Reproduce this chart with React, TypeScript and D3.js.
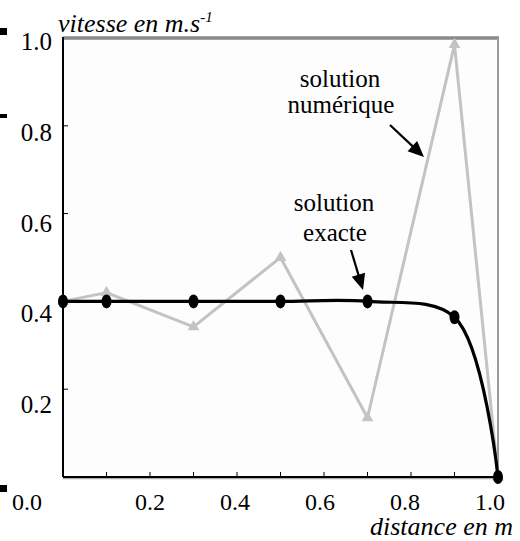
import React from "react";
import * as d3 from "d3";

// ---- data ----
const distance = [0, 0.1, 0.3, 0.5, 0.7, 0.9, 1.0];
const numerique = [0.4, 0.42, 0.342, 0.5, 0.135, 0.985, 0.0];
const exacte = [0.4, 0.4, 0.4, 0.4, 0.4, 0.364, 0.0];
const xMinorTicks = [0.1, 0.2, 0.3, 0.4, 0.5, 0.6, 0.7, 0.8, 0.9];
const yMinorTicks = [0.2, 0.4, 0.6, 0.8];
const xTickLabels = ["0.0", "0.2", "0.4", "0.6", "0.8", "1.0"];
const yTickLabels = ["0.2", "0.4", "0.6", "0.8", "1.0"];
const xAxisTitle = "distance en m";
const yAxisTitle = "vitesse en m.s";
const yAxisTitleExp = "-1";
const labelNumerique = ["solution", "numérique"];
const labelExacte = ["solution", "exacte"];

// ---- layout ----
const W = 520;
const H = 541;
const FONT = '"Liberation Serif", monospace';

const x = d3.scaleLinear().domain([0, 1]).range([63, 498]);
const y = d3.scaleLinear().domain([0, 1]).range([477, 38]);
// tick labels in the original are placed on their own slightly offset grid
const xLab = d3.scaleLinear().domain([0.2, 1]).range([150, 490]);
const yLab = d3.scaleLinear().domain([0.2, 1]).range([413, 50]);

function Arrow({ x1, y1, x2, y2 }: { x1: number; y1: number; x2: number; y2: number }) {
  const dx = x2 - x1;
  const dy = y2 - y1;
  const len = Math.hypot(dx, dy);
  const ux = dx / len;
  const uy = dy / len;
  const hl = 16;
  const hw = 7;
  const bx = x2 - ux * hl;
  const by = y2 - uy * hl;
  const pts = [
    [x2, y2],
    [bx - uy * hw, by + ux * hw],
    [bx + uy * hw, by - ux * hw],
  ];
  return (
    <g>
      <line x1={x1} y1={y1} x2={bx + ux * 2} y2={by + uy * 2} stroke="#000" strokeWidth={2.2} />
      <polygon points={pts.map((p) => p.join(",")).join(" ")} fill="#000" />
    </g>
  );
}

function T(props: any) {
  const { children, size, italic, anchor, ...rest } = props;
  return (
    <text
      {...rest}
      fill="#000"
      textAnchor={anchor || "start"}
      style={{ fontFamily: FONT, fontSize: size + "px", fontStyle: italic ? "italic" : "normal" }}
    >
      {children}
    </text>
  );
}

export default function App() {
  const numPts = distance.map((d, i) => [x(d), y(numerique[i])] as [number, number]);
  const exPts = distance.map((d, i) => [x(d), y(exacte[i])] as [number, number]);
  const straight = d3.line();
  const smooth = d3.line().curve(d3.curveCatmullRom.alpha(0.5));
  const tri = d3.symbol().type(d3.symbolTriangle).size(60)();

  return (
    <svg width={W} height={H} style={{ position: "absolute", left: 0, top: 0, background: "#fff" }}>
      {/* selection-handle squares at the left edge */}
      <rect x={0} y={28} width={7} height={7} fill="#000" />
      <rect x={0} y={114} width={7} height={4} fill="#000" />
      <rect x={0} y={485} width={7} height={7} fill="#000" />

      {/* plot area */}
      <rect x={x(0)} y={y(1)} width={x(1) - x(0)} height={y(0) - y(1)} fill="#fdfdfd" />
      <line x1={x(0)} x2={x(1) + 1} y1={y(1)} y2={y(1)} stroke="#8a8a8a" strokeWidth={3.5} />
      <line x1={x(1)} x2={x(1)} y1={y(1)} y2={y(0)} stroke="#9a9a9a" strokeWidth={2} />

      {/* axes */}
      <line x1={x(0)} x2={x(1)} y1={y(0) + 1.5} y2={y(0) + 1.5} stroke="#aaa" strokeWidth={1.5} />
      <line x1={x(0)} x2={x(0)} y1={y(1) - 1} y2={y(0)} stroke="#000" strokeWidth={2} />
      <line x1={x(0)} x2={x(1)} y1={y(0)} y2={y(0)} stroke="#000" strokeWidth={2} />
      {xMinorTicks.map((t) => (
        <line key={"xt" + t} x1={x(t)} x2={x(t)} y1={y(0)} y2={y(0) - 5} stroke="#000" strokeWidth={1} />
      ))}
      {yMinorTicks.map((t) => (
        <line key={"yt" + t} x1={x(0)} x2={x(0) + 5} y1={y(t)} y2={y(t)} stroke="#000" strokeWidth={1} />
      ))}

      {/* tick labels */}
      {xTickLabels.map((l) => {
        const v = +l;
        const cx = v === 0 ? xLab(0.2) - 123 : xLab(v);
        return (
          <T key={"xl" + l} x={cx} y={510} size={24} anchor="middle">
            {l}
          </T>
        );
      })}
      {yTickLabels.map((l) => (
        <T key={"yl" + l} x={52} y={yLab(+l)} size={25} anchor="end">
          {l}
        </T>
      ))}

      {/* axis titles */}
      <T x={513} y={535} size={26} italic anchor="end">
        {xAxisTitle}
      </T>
      <T x={58} y={32} size={26} italic>
        {yAxisTitle}
        <tspan dy={-10} style={{ fontSize: "15px" }}>
          {yAxisTitleExp}
        </tspan>
      </T>

      {/* numerical solution */}
      <path d={straight(numPts) || ""} fill="none" stroke="#c3c3c3" strokeWidth={3} strokeLinejoin="round" />
      {numPts.map((p, i) => (
        <path key={"tri" + i} d={tri || ""} transform={`translate(${p[0]},${p[1]})`} fill="#c3c3c3" />
      ))}

      {/* exact solution */}
      <path d={smooth(exPts) || ""} fill="none" stroke="#000" strokeWidth={3.2} />
      {exPts.map((p, i) => (
        <ellipse key={"ex" + i} cx={p[0]} cy={p[1]} rx={5} ry={7} fill="#000" />
      ))}

      {/* annotations */}
      <T x={340} y={87} size={25} anchor="middle">
        {labelNumerique[0]}
      </T>
      <T x={341} y={113} size={25} anchor="middle">
        {labelNumerique[1]}
      </T>
      <Arrow x1={390} y1={125} x2={424} y2={157} />

      <T x={334} y={211} size={25} anchor="middle">
        {labelExacte[0]}
      </T>
      <T x={335} y={241} size={25} anchor="middle">
        {labelExacte[1]}
      </T>
      <Arrow x1={351} y1={250} x2={363} y2={290} />
    </svg>
  );
}
